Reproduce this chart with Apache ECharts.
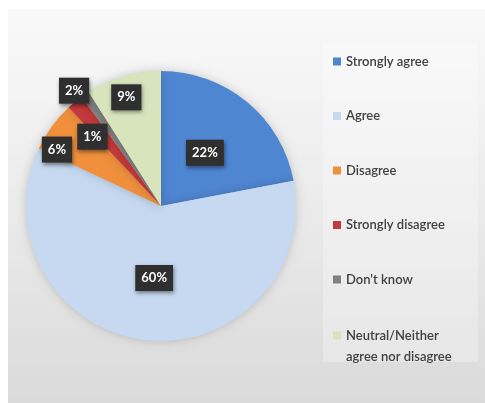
<!DOCTYPE html>
<html>
<head>
<meta charset="utf-8">
<script src="https://cdn.jsdelivr.net/npm/echarts@6/dist/echarts.min.js"></script>
<style>
  html, body { margin: 0; padding: 0; background: #ffffff; }
  #chart { width: 485px; height: 403px; }
</style>
</head>
<body>
<div id="chart"></div>
<script>
// Survey responses (percent of respondents)
const categories = ['Strongly agree', 'Agree', 'Disagree', 'Strongly disagree', "Don't know", 'Neutral/Neither agree nor disagree'];
const shares = [22, 60, 6, 2, 1, 9];

// Slice colours, one per category
const palette = ['#4f86d2', '#c6d9f0', '#f0903c', '#c4393b', '#808080', '#d8e4bc'];
// Nudges applied to the value boxes so the thin slices' labels do not collide
const labelNudge = [[-1, 1], [2, 2], [-47, -15], [-42, -61], [-29, -11], [-15, -41]];

const chart = echarts.init(document.getElementById('chart'), null, { renderer: 'canvas' });

const legendText = { color: '#404040', fontSize: 13, fontFamily: 'Lato', fontWeight: 600, lineHeight: 21 };

chart.setOption({
  animation: false,
  graphic: [
    {
      type: 'rect', z: -10, silent: true,
      shape: { x: 8, y: 9, width: 477, height: 394 },
      style: {
        fill: new echarts.graphic.LinearGradient(0, 0, 0, 1, [
          { offset: 0, color: '#f9f9f9' },
          { offset: 0.5, color: '#ebebeb' },
          { offset: 1, color: '#dadada' }
        ])
      }
    },
    {
      type: 'rect', z: -9, silent: true,
      shape: { x: 323, y: 43, width: 155, height: 319 },
      style: { fill: 'rgba(255,255,255,0.28)' }
    }
  ],
  legend: [
    {
      orient: 'vertical',
      left: 328, top: 46,
      itemWidth: 8, itemHeight: 8,
      itemGap: 33.5,
      icon: 'rect',
      data: categories.slice(0, 5),
      textStyle: legendText
    },
    {
      // two-line entry: a leading blank line keeps the swatch level with the first line
      orient: 'vertical',
      left: 328, top: 299,
      itemWidth: 8, itemHeight: 8,
      icon: 'rect',
      data: categories.slice(5),
      formatter: () => '\nNeutral/Neither\nagree nor disagree',
      textStyle: legendText
    }
  ],
  series: [{
    type: 'pie',
    center: [161, 206],
    radius: 135,
    startAngle: 90,
    clockwise: true,
    itemStyle: {
      shadowBlur: 10,
      shadowColor: 'rgba(0,0,0,0.18)'
    },
    label: {
      show: true,
      position: 'inside',
      formatter: '{c}%',
      color: '#ffffff',
      fontFamily: 'Lato',
      fontWeight: 'bold',
      fontSize: 13,
      lineHeight: 13,
      backgroundColor: '#2f2f2f',
      padding: [7, 6, 6, 6],
      shadowBlur: 4,
      shadowOffsetX: 1,
      shadowOffsetY: 2,
      shadowColor: 'rgba(0,0,0,0.45)'
    },
    labelLine: { show: false },
    labelLayout: function (p) {
      const n = labelNudge[p.dataIndex];
      return { dx: n[0], dy: n[1] };
    },
    emphasis: { disabled: true },
    data: categories.map((name, i) => ({
      name: name,
      value: shares[i],
      itemStyle: { color: palette[i] }
    }))
  }]
});
</script>
</body>
</html>
